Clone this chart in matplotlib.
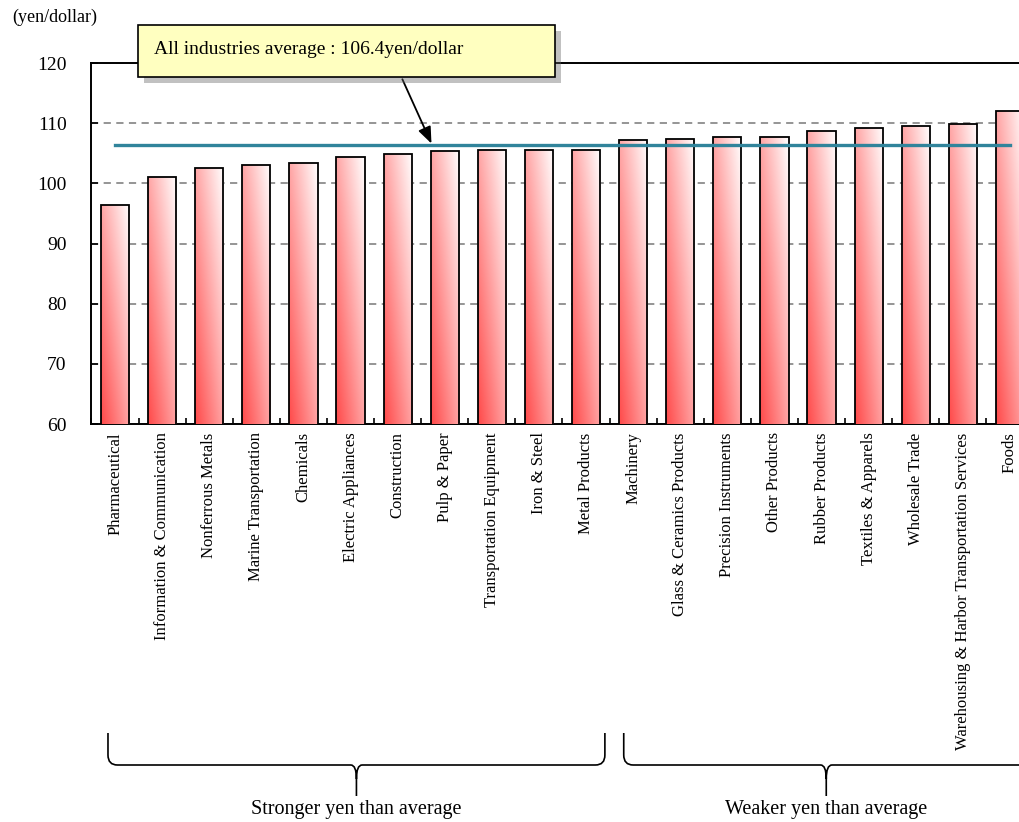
import numpy as np
import matplotlib
matplotlib.use("Agg")
import matplotlib.pyplot as plt
from matplotlib.patches import Rectangle, PathPatch
from matplotlib.path import Path
from matplotlib.transforms import blended_transform_factory
import matplotlib.patheffects as pe

plt.rcParams['font.family'] = ['Liberation Serif', 'DejaVu Serif']

industries = [
    "Pharmaceutical", "Information & Communication", "Nonferrous Metals",
    "Marine Transportation", "Chemicals", "Electric Appliances", "Construction",
    "Pulp & Paper", "Transportation Equipment", "Iron & Steel", "Metal Products",
    "Machinery", "Glass & Ceramics Products", "Precision Instruments",
    "Other Products", "Rubber Products", "Textiles & Apparels", "Wholesale Trade",
    "Warehousing & Harbor Transportation Services", "Foods",
]
rates = [96.4, 101.0, 102.6, 103.0, 103.3, 104.3, 104.8, 105.4, 105.6, 105.6,
         105.6, 107.2, 107.4, 107.7, 107.7, 108.7, 109.2, 109.5, 109.8, 112.1]
average = 106.4
yticks = [60, 70, 80, 90, 100, 110, 120]

W, H = 1020, 822
fig = plt.figure(figsize=(W / 100, H / 100), dpi=100)
ax = fig.add_axes([91.5 / W, 1 - 424 / H, 942 / W, 361 / H])

x = np.arange(len(industries))
bars = ax.bar(x, rates, width=0.6, facecolor='none', edgecolor='black',
              linewidth=1.3, zorder=4)

# diagonal gradient: red at bottom-left, white at top-right
u = np.linspace(0, 1, 60)
U, V = np.meshgrid(u, u)
t = ((U + V) / 2)[..., None]
red = np.array([1.0, 0.29, 0.29])
img = red + t * (np.ones(3) - red)
for b in bars:
    bx = b.get_x()
    im = ax.imshow(img, extent=[bx, bx + b.get_width(), 60, b.get_height()],
                   origin='lower', aspect='auto', zorder=3)
    im.set_clip_path(b)

ax.set_xlim(-0.5, len(industries) - 0.5)
ax.set_ylim(60, 120)
ax.set_yticks(yticks)
ax.yaxis.grid(True, linestyle=(0, (4, 3)), color='#8c8c8c', linewidth=1.3, zorder=1)
ax.set_axisbelow(True)
ax.tick_params(axis='y', direction='in', length=5, width=1.2, pad=18, labelsize=14)
ax.set_xticks(x)
ax.set_xticklabels(industries, rotation=90, fontsize=12, va='top')
ax.set_xticks(np.arange(len(industries) + 1) - 0.5, minor=True)
ax.tick_params(axis='x', which='major', length=0, pad=6)
ax.tick_params(axis='x', which='minor', direction='in', length=4, width=1.2)
for s in ax.spines.values():
    s.set_linewidth(1.4)

ax.plot([x[0], x[-1]], [average, average], color='#31849b', linewidth=2.4, zorder=5)

fig.text(12 / W, 1 - 17 / H, "(yen/dollar)", fontsize=13, va='center')

# callout box with shadow
box = Rectangle((138 / W, 1 - 77 / H), 417 / W, 52 / H, transform=fig.transFigure,
                facecolor='#ffffc0', edgecolor='black', linewidth=1.2, zorder=10)
box.set_path_effects([pe.SimplePatchShadow(offset=(4, -4), shadow_rgbFace='#666666', alpha=0.4),
                      pe.Normal()])
fig.add_artist(box)
fig.text(154 / W, 1 - 50 / H, "All industries average : 106.4yen/dollar",
         fontsize=14, va='center', zorder=11)

ax.annotate("", xy=(6.73, average), xytext=(6.1, 117.3),
            arrowprops=dict(arrowstyle='-|>,head_length=1.0,head_width=0.4',
                            color='black', lw=1.3, shrinkA=0, shrinkB=1),
            annotation_clip=False, zorder=6)

# braces under the category labels
tr = blended_transform_factory(ax.transData, fig.transFigure)


def brace(x0, x1, label):
    xc = (x0 + x1) / 2
    top, mid, tip = 1 - 733 / H, 1 - 765 / H, 1 - 796 / H
    rx, ry = 0.2, 10 / H
    cx, cy = 0.12, 14 / H
    verts = [(x0, top), (x0, mid + ry), (x0, mid), (x0 + rx, mid),
             (xc - cx, mid), (xc, mid), (xc, mid - cy),
             (xc, tip), (xc, mid - cy), (xc, mid), (xc + cx, mid),
             (x1 - rx, mid), (x1, mid), (x1, mid + ry), (x1, top)]
    codes = [Path.MOVETO, Path.LINETO, Path.CURVE3, Path.CURVE3,
             Path.LINETO, Path.CURVE3, Path.CURVE3,
             Path.LINETO, Path.MOVETO, Path.CURVE3, Path.CURVE3,
             Path.LINETO, Path.CURVE3, Path.CURVE3, Path.LINETO]
    ax.add_patch(PathPatch(Path(verts, codes), transform=tr, facecolor='none',
                           edgecolor='black', linewidth=1.2, clip_on=False))
    ax.text(xc, 1 - 809 / H, label, transform=tr, ha='center', va='center', fontsize=14.5)


brace(-0.15, 10.4, "Stronger yen than average")
brace(10.8, 19.4, "Weaker yen than average")

fig.savefig("out.png", dpi=100)
